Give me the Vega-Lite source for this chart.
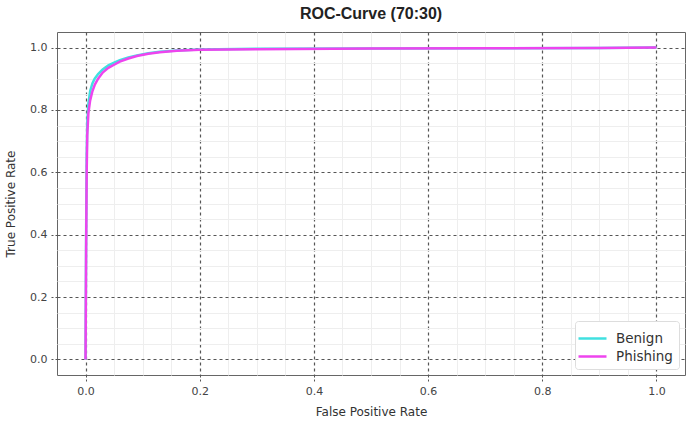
{
  "$schema": "https://vega.github.io/schema/vega-lite/v6.json",
  "width": 628,
  "height": 343,
  "autosize": {"type": "none"},
  "padding": {"left": 57, "top": 32, "right": 7, "bottom": 49},
  "title": {"text": "ROC-Curve (70:30)", "font": "Liberation Sans", "fontSize": 16, "fontWeight": "bold", "color": "#222", "offset": 10, "anchor": "middle"},
  "config": {
    "view": {"stroke": "#666", "strokeWidth": 1},
    "font": "DejaVu Sans"
  },
  "data": {"values": [
    {"series": "Benign", "fpr": 0, "tpr": 0},
    {"series": "Benign", "fpr": 0.001, "tpr": 0.4},
    {"series": "Benign", "fpr": 0.002, "tpr": 0.65},
    {"series": "Benign", "fpr": 0.003, "tpr": 0.76},
    {"series": "Benign", "fpr": 0.005, "tpr": 0.82},
    {"series": "Benign", "fpr": 0.008, "tpr": 0.86},
    {"series": "Benign", "fpr": 0.012, "tpr": 0.885},
    {"series": "Benign", "fpr": 0.016, "tpr": 0.9},
    {"series": "Benign", "fpr": 0.022, "tpr": 0.915},
    {"series": "Benign", "fpr": 0.03, "tpr": 0.93},
    {"series": "Benign", "fpr": 0.04, "tpr": 0.943},
    {"series": "Benign", "fpr": 0.05, "tpr": 0.952},
    {"series": "Benign", "fpr": 0.06, "tpr": 0.96},
    {"series": "Benign", "fpr": 0.075, "tpr": 0.968},
    {"series": "Benign", "fpr": 0.09, "tpr": 0.975},
    {"series": "Benign", "fpr": 0.11, "tpr": 0.982},
    {"series": "Benign", "fpr": 0.13, "tpr": 0.987},
    {"series": "Benign", "fpr": 0.16, "tpr": 0.991},
    {"series": "Benign", "fpr": 0.2, "tpr": 0.994},
    {"series": "Benign", "fpr": 0.3, "tpr": 0.996},
    {"series": "Benign", "fpr": 0.5, "tpr": 0.997},
    {"series": "Benign", "fpr": 0.7, "tpr": 0.998},
    {"series": "Benign", "fpr": 0.9, "tpr": 0.999},
    {"series": "Benign", "fpr": 1, "tpr": 1},
    {"series": "Phishing", "fpr": 0, "tpr": 0},
    {"series": "Phishing", "fpr": 0.001, "tpr": 0.35},
    {"series": "Phishing", "fpr": 0.002, "tpr": 0.6},
    {"series": "Phishing", "fpr": 0.003, "tpr": 0.72},
    {"series": "Phishing", "fpr": 0.005, "tpr": 0.79},
    {"series": "Phishing", "fpr": 0.008, "tpr": 0.83},
    {"series": "Phishing", "fpr": 0.012, "tpr": 0.86},
    {"series": "Phishing", "fpr": 0.016, "tpr": 0.88},
    {"series": "Phishing", "fpr": 0.022, "tpr": 0.9},
    {"series": "Phishing", "fpr": 0.03, "tpr": 0.92},
    {"series": "Phishing", "fpr": 0.04, "tpr": 0.935},
    {"series": "Phishing", "fpr": 0.05, "tpr": 0.945},
    {"series": "Phishing", "fpr": 0.06, "tpr": 0.955},
    {"series": "Phishing", "fpr": 0.075, "tpr": 0.965},
    {"series": "Phishing", "fpr": 0.09, "tpr": 0.973},
    {"series": "Phishing", "fpr": 0.11, "tpr": 0.98},
    {"series": "Phishing", "fpr": 0.13, "tpr": 0.985},
    {"series": "Phishing", "fpr": 0.16, "tpr": 0.99},
    {"series": "Phishing", "fpr": 0.2, "tpr": 0.993},
    {"series": "Phishing", "fpr": 0.3, "tpr": 0.995},
    {"series": "Phishing", "fpr": 0.5, "tpr": 0.997},
    {"series": "Phishing", "fpr": 0.7, "tpr": 0.998},
    {"series": "Phishing", "fpr": 0.9, "tpr": 0.999},
    {"series": "Phishing", "fpr": 1, "tpr": 1}
  ]},
  "layer": [
    {
      "mark": {"type": "line", "strokeOpacity": 0},
      "encoding": {
        "detail": {"field": "series"},
        "x": {"field": "fpr", "type": "quantitative", "scale": {"domain": [-0.05, 1.05], "nice": false, "zero": false},
          "axis": {"orient": "top", "values": [0.05, 0.1, 0.15, 0.25, 0.3, 0.35, 0.45, 0.5, 0.55, 0.65, 0.7, 0.75, 0.85, 0.9, 0.95], "grid": true, "gridColor": "#eeeeee", "gridWidth": 1, "labels": false, "ticks": false, "domain": false, "title": null}},
        "y": {"field": "tpr", "type": "quantitative", "scale": {"domain": [-0.05, 1.05], "nice": false, "zero": false},
          "axis": {"orient": "right", "values": [0.05, 0.1, 0.15, 0.25, 0.3, 0.35, 0.45, 0.5, 0.55, 0.65, 0.7, 0.75, 0.85, 0.9, 0.95], "grid": true, "gridColor": "#eeeeee", "gridWidth": 1, "labels": false, "ticks": false, "domain": false, "title": null}}
      }
    },
    {
      "mark": {"type": "line", "strokeWidth": 2.5},
      "encoding": {
        "x": {"field": "fpr", "type": "quantitative",
          "axis": {"orient": "bottom", "values": [0, 0.2, 0.4, 0.6, 0.8, 1], "format": ".1f", "grid": true, "gridDash": [3, 3], "gridColor": "#555", "gridWidth": 1.2, "domain": false, "tickDash": [2, 2], "tickColor": "#555", "tickSize": 7, "labelPadding": 3, "labelFont": "DejaVu Sans", "labelFontSize": 11, "labelColor": "#444", "title": "False Positive Rate", "titleFont": "DejaVu Sans", "titleFontSize": 12, "titleFontWeight": "normal", "titleColor": "#333", "titlePadding": 10}},
        "y": {"field": "tpr", "type": "quantitative",
          "axis": {"orient": "left", "values": [0, 0.2, 0.4, 0.6, 0.8, 1], "format": ".1f", "grid": true, "gridDash": [3, 3], "gridColor": "#555", "gridWidth": 1.2, "domain": false, "tickDash": [2, 2], "tickColor": "#555", "tickSize": 6, "labelPadding": 4, "labelFont": "DejaVu Sans", "labelFontSize": 11, "labelColor": "#444", "title": "True Positive Rate", "titleFont": "DejaVu Sans", "titleFontSize": 12, "titleFontWeight": "normal", "titleColor": "#333", "titlePadding": 12}},
        "color": {"field": "series", "type": "nominal", "scale": {"domain": ["Benign", "Phishing"], "range": ["#40e0e0", "#ee44ee"]},
          "legend": {"orient": "bottom-right", "title": null, "offset": 6, "symbolType": "M-1.4,0H1.4", "symbolStrokeWidth": 2.5, "symbolSize": 400, "labelFont": "DejaVu Sans", "labelFontSize": 13.5, "labelColor": "#333", "labelOffset": 12, "strokeColor": "#ddd", "fillColor": "white", "padding": 6, "cornerRadius": 3, "rowPadding": 0}}
      }
    }
  ],
  "resolve": {"axis": {"x": "independent", "y": "independent"}}
}
